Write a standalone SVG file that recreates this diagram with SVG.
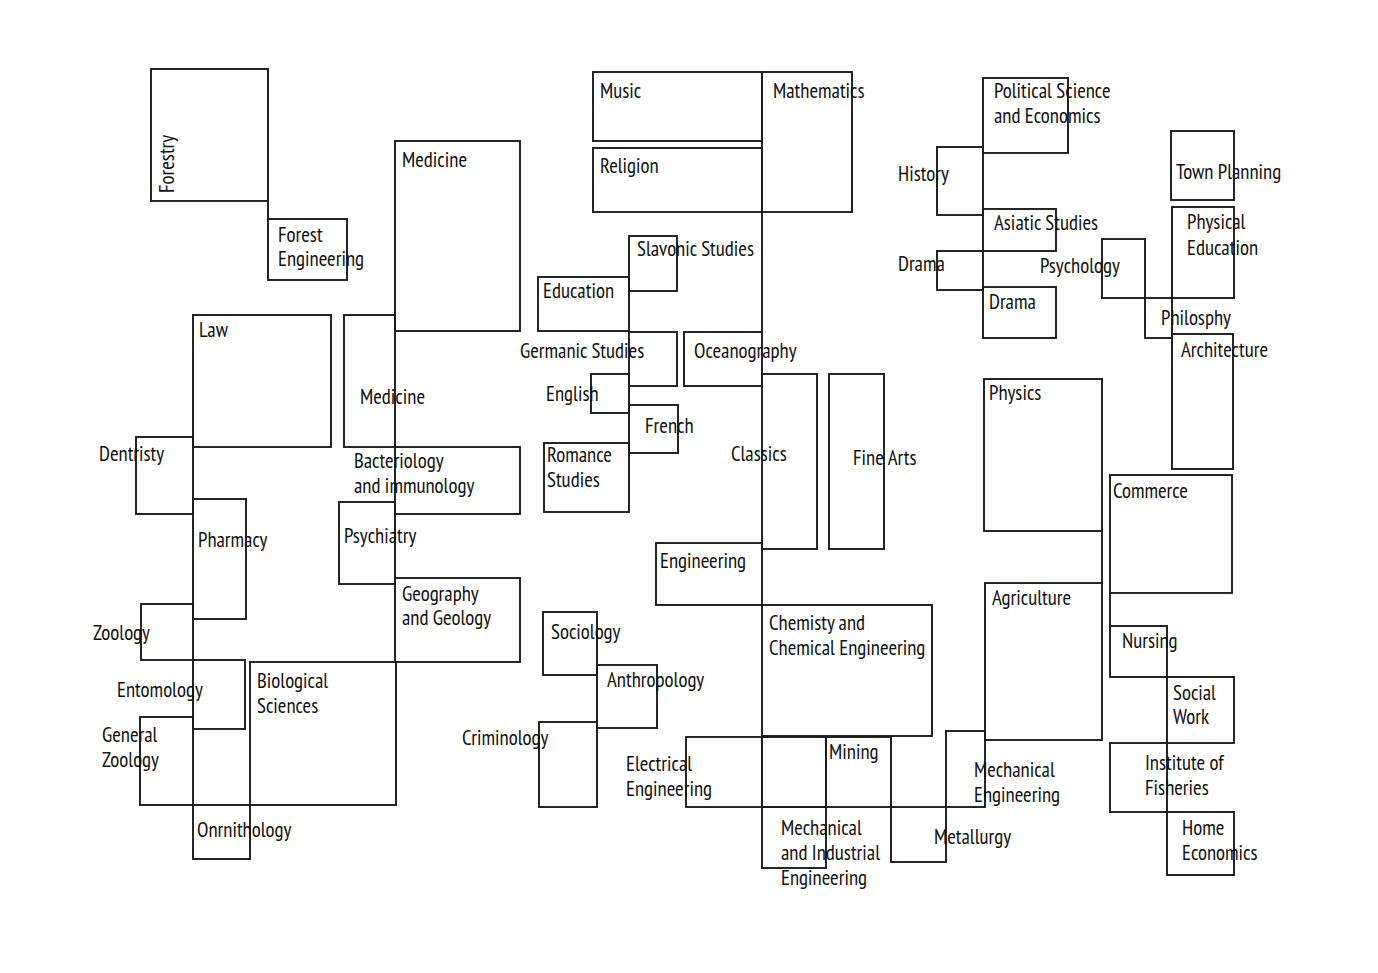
<svg xmlns="http://www.w3.org/2000/svg" width="1378" height="973" viewBox="0 0 1378 973">
<style>
rect{fill:none;stroke:#1c1c1c;stroke-width:1.9}
line{stroke:#1c1c1c;stroke-width:1.9}
text{font-family:"Liberation Sans Narrow","PT Sans Narrow","Liberation Sans",sans-serif;font-size:20.8px;fill:#111}
</style>
<rect x="0" y="0" width="1378" height="973" style="fill:#fff;stroke:none"/>
<g id="lines">
<line x1="268" y1="201" x2="268" y2="219"/>
<line x1="762" y1="212" x2="762" y2="332"/>
<line x1="1102" y1="531" x2="1102" y2="583"/>
<line x1="1110" y1="593" x2="1110" y2="626"/>
</g>
<g id="forestry"><rect x="151" y="69" width="117" height="132"/><text transform="translate(174 193) rotate(-90)">Forestry</text></g>
<g id="forest-engineering"><rect x="268" y="219" width="79" height="61"/><text x="278" y="241.5">Forest</text><text x="278" y="266">Engineering</text></g>
<g id="medicine"><rect x="395" y="141" width="125" height="190"/><text x="402" y="167">Medicine</text></g>
<g id="law"><rect x="193" y="315" width="138" height="132"/><text x="199" y="337">Law</text></g>
<g id="medicine-2"><rect x="344" y="315" width="51" height="132"/><text x="360" y="404">Medicine</text></g>
<g id="dentristy"><rect x="136" y="437" width="57" height="77"/><text x="99" y="461">Dentristy</text></g>
<g id="pharmacy"><rect x="193" y="499" width="53" height="120"/><text x="198" y="547">Pharmacy</text></g>
<g id="bacteriology"><rect x="395" y="447" width="125" height="67"/><text x="354" y="468">Bacteriology</text><text x="354" y="493">and immunology</text></g>
<g id="psychiatry"><rect x="339" y="502" width="56" height="82"/><text x="344" y="543">Psychiatry</text></g>
<g id="geography"><rect x="395" y="578" width="125" height="84"/><text x="402" y="601">Geography</text><text x="402" y="625">and Geology</text></g>
<g id="zoology"><rect x="141" y="604" width="52" height="56"/><text x="93" y="640">Zoology</text></g>
<g id="entomology"><rect x="193" y="660" width="52" height="69"/><text x="117" y="697">Entomology</text></g>
<g id="general-zoology"><rect x="140" y="717" width="53" height="88"/><text x="102" y="742">General</text><text x="102" y="767">Zoology</text></g>
<g id="biological-sciences"><rect x="250" y="662" width="146" height="143"/><text x="257" y="688">Biological</text><text x="257" y="713">Sciences</text></g>
<g id="ornithology"><rect x="193" y="805" width="57" height="54"/><text x="197" y="837">Onrnithology</text></g>
<g id="music"><rect x="593" y="72" width="169" height="69"/><text x="600" y="98">Music</text></g>
<g id="mathematics"><rect x="762" y="72" width="90" height="140"/><text x="773" y="98">Mathematics</text></g>
<g id="religion"><rect x="593" y="148" width="169" height="64"/><text x="600" y="173">Religion</text></g>
<g id="slavonic"><rect x="629" y="236" width="48" height="55"/><text x="637" y="256">Slavonic Studies</text></g>
<g id="education"><rect x="538" y="277" width="91" height="54"/><text x="543" y="298">Education</text></g>
<g id="germanic"><rect x="629" y="332" width="48" height="54"/><text x="520" y="358">Germanic Studies</text></g>
<g id="oceanography"><rect x="684" y="332" width="78" height="54"/><text x="694" y="358">Oceanography</text></g>
<g id="english"><rect x="591" y="374" width="38" height="39"/><text x="546" y="401">English</text></g>
<g id="french"><rect x="629" y="405" width="49" height="48"/><text x="645" y="433">French</text></g>
<g id="romance"><rect x="544" y="443" width="85" height="69"/><text x="547" y="462">Romance</text><text x="547" y="487">Studies</text></g>
<g id="classics"><rect x="762" y="374" width="55" height="175"/><text x="731" y="461">Classics</text></g>
<g id="fine-arts"><rect x="829" y="374" width="55" height="175"/><text x="853" y="465">Fine Arts</text></g>
<g id="engineering"><rect x="656" y="543" width="106" height="62"/><text x="660" y="568">Engineering</text></g>
<g id="chemistry"><rect x="762" y="605" width="170" height="131"/><text x="769" y="630">Chemisty and</text><text x="769" y="655">Chemical Engineering</text></g>
<g id="sociology"><rect x="543" y="612" width="54" height="63"/><text x="551" y="639">Sociology</text></g>
<g id="anthropology"><rect x="597" y="665" width="60" height="63"/><text x="607" y="687">Anthropology</text></g>
<g id="criminology"><rect x="539" y="722" width="58" height="85"/><text x="462" y="745">Criminology</text></g>
<g id="electrical"><rect x="686" y="737" width="76" height="70"/><text x="626" y="771">Electrical</text><text x="626" y="796">Engineering</text></g>
<g id="cell"><rect x="762" y="737" width="64" height="70"/></g>
<g id="mining"><rect x="826" y="737" width="65" height="70"/><text x="829" y="759">Mining</text></g>
<g id="mech-industrial"><rect x="762" y="807" width="64" height="61"/><text x="781" y="835">Mechanical</text><text x="781" y="860">and Industrial</text><text x="781" y="885">Engineering</text></g>
<g id="metallurgy"><rect x="891" y="807" width="55" height="55"/><text x="934" y="844">Metallurgy</text></g>
<g id="mechanical-engineering"><rect x="946" y="731" width="39" height="76"/><text x="974" y="777">Mechanical</text><text x="974" y="802">Engineering</text></g>
<g id="political-science"><rect x="983" y="78" width="85" height="75"/><text x="994" y="98">Political Science</text><text x="994" y="123">and Economics</text></g>
<g id="history"><rect x="937" y="147" width="46" height="68"/><text x="898" y="181">History</text></g>
<g id="asiatic"><rect x="983" y="209" width="73" height="42"/><text x="994" y="230">Asiatic Studies</text></g>
<g id="drama-1"><rect x="937" y="251" width="46" height="39"/><text x="898" y="271">Drama</text></g>
<g id="drama-2"><rect x="983" y="287" width="73" height="51"/><text x="989" y="309">Drama</text></g>
<g id="town-planning"><rect x="1171" y="131" width="63" height="69"/><text x="1176" y="179">Town Planning</text></g>
<g id="physical-education"><rect x="1172" y="207" width="62" height="91"/><text x="1187" y="229">Physical</text><text x="1187" y="255">Education</text></g>
<g id="psychology"><rect x="1102" y="239" width="43" height="59"/><text x="1040" y="273">Psychology</text></g>
<g id="philosophy"><rect x="1145" y="298" width="27" height="40"/><text x="1161" y="325">Philosphy</text></g>
<g id="architecture"><rect x="1172" y="334" width="61" height="135"/><text x="1181" y="357">Architecture</text></g>
<g id="physics"><rect x="984" y="379" width="118" height="152"/><text x="989" y="400">Physics</text></g>
<g id="commerce"><rect x="1110" y="475" width="122" height="118"/><text x="1113" y="498">Commerce</text></g>
<g id="agriculture"><rect x="985" y="583" width="117" height="157"/><text x="992" y="605">Agriculture</text></g>
<g id="nursing"><rect x="1110" y="626" width="57" height="51"/><text x="1122" y="648">Nursing</text></g>
<g id="social-work"><rect x="1167" y="677" width="67" height="66"/><text x="1173" y="700">Social</text><text x="1173" y="724">Work</text></g>
<g id="fisheries"><rect x="1110" y="743" width="57" height="69"/><text x="1145" y="770">Institute of</text><text x="1145" y="795">Fisheries</text></g>
<g id="home-economics"><rect x="1167" y="812" width="67" height="63"/><text x="1182" y="835">Home</text><text x="1182" y="860">Economics</text></g>
</svg>
